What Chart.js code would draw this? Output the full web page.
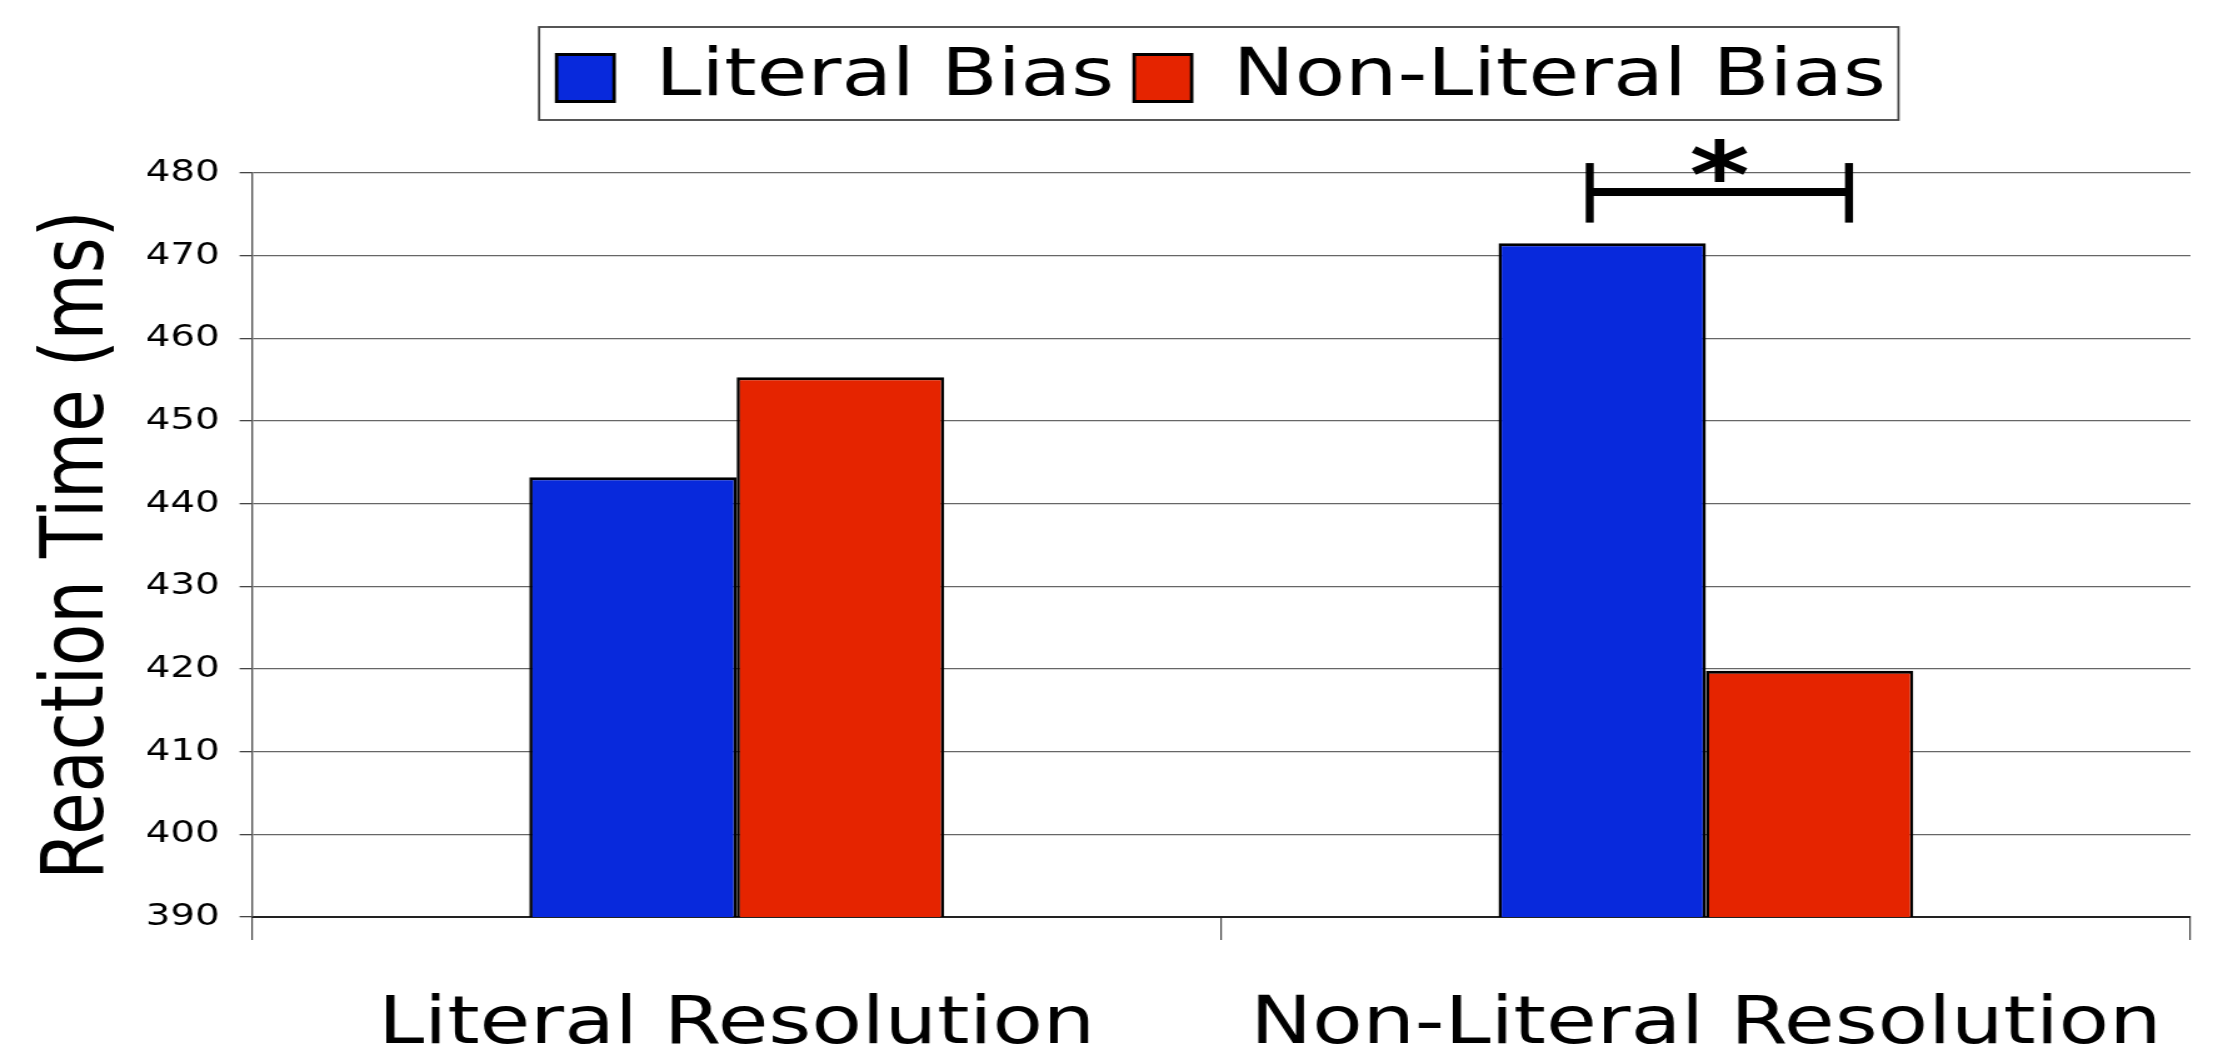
<!DOCTYPE html>
<html>
<head>
<meta charset="utf-8">
<script src="https://cdn.jsdelivr.net/npm/chart.js@4.4.1/dist/chart.umd.min.js"></script>
<style>
  html, body { margin: 0; padding: 0; background: #ffffff; overflow: hidden; }
</style>
</head>
<body>
<canvas id="c" width="1778" height="1055" style="display:block;width:2223px;height:1055px;"></canvas>
<script>
// ---- data ----
const categories = ['Literal Resolution', 'Non-Literal Resolution'];
const seriesNames = ['Literal Bias', 'Non-Literal Bias'];
const literalBias = [443.2, 471.5];
const nonLiteralBias = [455.3, 419.8];
const yMin = 390;
const yMax = 480;
const yStep = 10;
const yTitle = 'Reaction Time (ms)';
const sigCategory = 1;
const sigLabel = '*';
const sigLineValue = 477.7;
const sigCapTop = 481.2;
const sigCapBottom = 474.0;

const FONT = 'DejaVu Sans';
const BLUE = '#0829DC';
const RED = '#E52400';

const annotationPlugin = {
  id: 'extras',
  afterDraw(chart) {
    const ctx = chart.ctx;
    // legend frame
    const lg = chart.legend;
    if (lg && lg.legendHitBoxes && lg.legendHitBoxes.length) {
      const hb = lg.legendHitBoxes;
      const first = hb[0], last = hb[hb.length - 1];
      const midY = first.top + first.height / 2;
      const x0 = first.left - 14;
      const x1 = last.left + last.width + 10;
      ctx.save();
      ctx.strokeStyle = '#444444';
      ctx.lineWidth = 1.8;
      ctx.strokeRect(x0, midY - 51, x1 - x0, 93);
      ctx.restore();
    }
    // significance bracket
    const y = chart.scales.y;
    const b = chart.getDatasetMeta(0).data[sigCategory];
    const r = chart.getDatasetMeta(1).data[sigCategory];
    const left = b.x - 0.06 * b.width;
    const right = r.x + 0.19 * r.width;
    const yl = y.getPixelForValue(sigLineValue);
    const yt = y.getPixelForValue(sigCapTop);
    const yb = y.getPixelForValue(sigCapBottom);
    ctx.save();
    ctx.fillStyle = '#000000';
    ctx.fillRect(left, yl - 4, right - left, 8);
    ctx.fillRect(left - 3.2, yt, 6.4, yb - yt);
    ctx.fillRect(right - 3.2, yt, 6.4, yb - yt);
    ctx.font = 'bold 92px ' + FONT;
    ctx.textAlign = 'center';
    ctx.textBaseline = 'alphabetic';
    ctx.fillText(sigLabel, (left + right) / 2, yl + 16);
    ctx.restore();
  }
};

new Chart(document.getElementById('c'), {
  type: 'bar',
  data: {
    labels: categories,
    datasets: [
      { label: seriesNames[0], data: literalBias, backgroundColor: BLUE, borderColor: '#000000',
        borderWidth: {top: 3, bottom: 3, left: 2.6, right: 2.6}, borderSkipped: false,
        categoryPercentage: 0.428, barPercentage: 1.0 },
      { label: seriesNames[1], data: nonLiteralBias, backgroundColor: RED, borderColor: '#000000',
        borderWidth: {top: 3, bottom: 3, left: 2.6, right: 2.6}, borderSkipped: false,
        categoryPercentage: 0.428, barPercentage: 1.0 }
    ]
  },
  options: {
    responsive: false,
    devicePixelRatio: 1,
    animation: false,
    layout: { padding: { left: 28, right: 26, top: 29, bottom: 0 } },
    plugins: {
      legend: {
        position: 'top',
        fullSize: false,
        labels: {
          font: { family: FONT, size: 66 },
          color: '#000000',
          boxWidth: 46,
          boxHeight: 47,
          padding: 16
        }
      },
      title: {
        display: true,
        text: '',
        weight: 500,
        padding: { top: 51, bottom: 0 },
        font: { size: 1, lineHeight: 1 }
      },
      tooltip: { enabled: false }
    },
    scales: {
      x: {
        grid: { display: true, drawOnChartArea: false, drawTicks: true, tickLength: 23,
                color: '#444444', lineWidth: 1.2, offset: true },
        border: { display: true, color: '#222222', width: 2 },
        ticks: { font: { family: FONT, size: 66, lineHeight: 1 }, color: '#000000', padding: 53, maxRotation: 0 },
        afterFit(scale) { scale.height = 138; scale.paddingLeft = 0; scale.paddingRight = 0; }
      },
      y: {
        min: yMin,
        max: yMax,
        ticks: { stepSize: yStep, font: { family: FONT, size: 31 }, color: '#000000', padding: 16 },
        grid: { color: '#666666', lineWidth: 1.3, tickLength: 10, tickColor: '#444444', drawTicks: true },
        border: { display: true, color: '#555555', width: 1.4 },
        title: { display: true, text: yTitle, color: '#000000',
                 font: { family: FONT, size: 69, lineHeight: 1 }, padding: { top: 2, bottom: 9 } },
        afterFit(scale) { scale.width = 173.6; }
      }
    }
  },
  plugins: [annotationPlugin]
});
</script>
</body>
</html>
